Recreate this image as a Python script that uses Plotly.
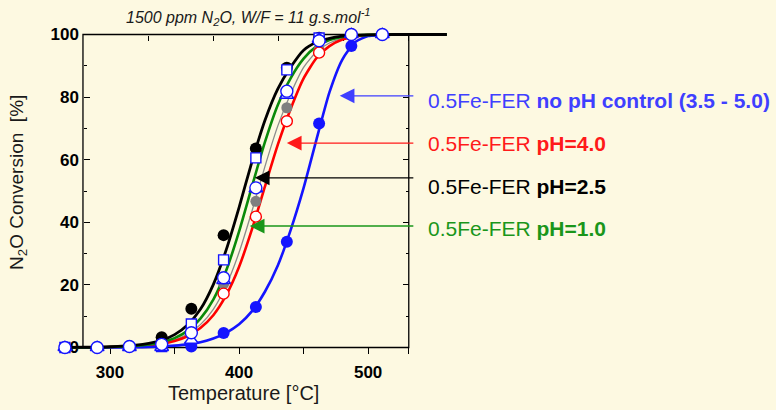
import plotly.graph_objects as go

# ---------------- data ----------------
# fitted curves
curve_T = [265, 280, 300, 320, 330, 340, 350, 360, 370, 380, 390, 400, 410, 420,
           430, 440, 450, 460, 470, 480, 490, 500, 520, 540, 561]
curve_black = [0.03, 0.07, 0.23, 0.73, 1.3, 2.3, 4.1, 7.2, 12.2, 20.1, 31.2, 44.8, 59.4, 72.5,
               82.6, 89.6, 95.0, 97.5, 98.8, 99.5, 99.8, 99.9, 100, 100, 100]
curve_green = [0.02, 0.05, 0.16, 0.53, 0.95, 1.7, 3.0, 5.3, 9.2, 15.3, 24.6, 37.1, 51.5, 65.6,
               77.5, 86.1, 92.3, 96.2, 98.2, 99.2, 99.7, 99.9, 100, 100, 100]
curve_gray = [0.02, 0.05, 0.14, 0.45, 0.79, 1.4, 2.4, 4.3, 7.3, 12.2, 19.8, 30.4, 43.6, 57.8,
              70.8, 81.1, 89.5, 94.5, 97.3, 98.8, 99.5, 99.8, 100, 100, 100]
curve_red = [0.02, 0.04, 0.14, 0.41, 0.7, 1.2, 2.1, 3.6, 6.2, 10.3, 16.7, 25.8, 37.8, 51.4,
             64.8, 76.3, 86.0, 92.5, 96.3, 98.4, 99.4, 99.8, 100, 100, 100]
curve_blue = [0.0, 0.0, 0.02, 0.07, 0.15, 0.33, 0.6, 1.0, 1.7, 2.9, 4.7, 7.4, 11.6, 17.8,
              26.2, 37.6, 51.0, 66.5, 81.5, 92.0, 97.6, 99.5, 100, 100, 100]

# measured points
ph25_T = [315, 340, 363, 388, 413, 437, 462, 487]
ph25_X = [0.4, 3.3, 12.4, 35.9, 63.6, 89.4, 99.0, 100]
ph40_T = [388, 413, 437, 462, 487]
ph40_X = [17.2, 41.8, 72.3, 94.2, 100]
gray_T = [388, 413, 437, 462, 487]
gray_X = [20.3, 46.7, 76.6, 95.2, 100]
noph_T = [363, 388, 413, 437, 462, 487, 511]
noph_X = [0.3, 4.6, 12.9, 33.8, 71.6, 96.3, 100]
sq_T = [265, 340, 363, 388, 413, 437, 462]
sq_X = [0, 0.3, 7.5, 28.0, 60.6, 88.7, 98.9]
tri_T = [265, 290, 315, 340, 363, 388, 413, 437, 462, 487, 511]
tri_X = [0, 0, 0, 0, 2.3, 21.4, 50.7, 80.6, 98.5, 100, 100]
oc_T = [265, 290, 315, 340, 363, 388, 413, 437, 462, 487, 511]
oc_X = [0, 0, 0.3, 1.0, 4.7, 22.3, 51.0, 81.9, 98.0, 100, 100]

x_major = [300, 400, 500]
x_minor = [350, 450, 531.5]
y_major = [0, 20, 40, 60, 80, 100]
y_minor = [10, 30, 50, 70, 90]
top_ticks = [329.5, 380, 430.5, 481, 531.5]

labels = [
    ("0.5Fe-FER ", "no pH control (3.5 - 5.0)", "#3f3fff", 478, 80.4, 78.8),
    ("0.5Fe-FER ", "pH=4.0", "#ff1a1a", 437, 65.3, 65.3),
    ("0.5Fe-FER ", "pH=2.5", "#000000", 412.2, 54.2, 51.3),
    ("0.5Fe-FER ", "pH=1.0", "#1a961a", 408.3, 38.8, 37.9),
]
title_text = "1500 ppm N<sub>2</sub>O, W/F = 11 g.s.mol<sup>-1</sup>"
xtitle = "Temperature [°C]"
ytitle = "N<sub>2</sub>O Conversion  [%]"

# ---------------- layout geometry ----------------
W, H = 776, 410
ML, MR, MT, MB = 52, 324, 22, 50
XR = [255, 565]
YR = [-4, 104]
FRAME_X = [279, 531.5]
ARROW_TAIL_X = 536.2
TEXT_X = 544.7
PW, PH = W - ML - MR, H - MT - MB
BG = "#fdf9e1"
FONT = "Liberation Sans, Arial, sans-serif"


def px2paper(px, py):
    return (px - ML) / PW, (H - MB - py) / PH


fig = go.Figure()

for ys, col, wd in [(curve_gray, "#8c8c8c", 1.3), (curve_red, "#ff0000", 2.6),
                    (curve_blue, "#1414ff", 2.6), (curve_green, "#0a8a0a", 2.6),
                    (curve_black, "#000000", 2.8)]:
    fig.add_trace(go.Scatter(x=curve_T, y=ys, mode="lines",
                             line=dict(color=col, width=wd, shape="spline", smoothing=0.6),
                             hoverinfo="skip", showlegend=False))

marker_sets = [
    (ph25_T, ph25_X, dict(symbol="circle", size=12, color="#000000")),
    (noph_T, noph_X, dict(symbol="circle", size=12, color="#1414ff")),
    (gray_T, gray_X, dict(symbol="circle", size=11, color="#7f7f7f")),
    (ph40_T, ph40_X, dict(symbol="circle", size=11, color="white", line=dict(color="#ff0000", width=1.4))),
    (sq_T, sq_X, dict(symbol="square", size=10, color="white", line=dict(color="#1414ff", width=1.4))),
    (tri_T, tri_X, dict(symbol="triangle-up", size=12, color="white", line=dict(color="#1414ff", width=1.4))),
    (oc_T, oc_X, dict(symbol="circle", size=12, color="white", line=dict(color="#1414ff", width=1.4))),
]
for xs, ys, mk in marker_sets:
    fig.add_trace(go.Scatter(x=xs, y=ys, mode="markers", marker=mk, cliponaxis=False,
                             hoverinfo="skip", showlegend=False))

# dummy trace to register secondary axes (top / right ticks)
fig.add_trace(go.Scatter(x=[400], y=[50], xaxis="x2", yaxis="y2", mode="markers",
                         marker=dict(opacity=0), hoverinfo="skip", showlegend=False))

# frame
fig.add_shape(type="rect", xref="x", yref="y", x0=FRAME_X[0], x1=FRAME_X[1], y0=0, y1=100,
              line=dict(color="black", width=1.3), layer="below")

tickfont = dict(family=FONT, size=17, color="black", weight="bold")
minor_y = dict(tickmode="array", tickvals=y_minor, ticks="inside", ticklen=3,
               tickwidth=1.3, tickcolor="black", showgrid=False)
fig.update_layout(
    width=W, height=H, margin=dict(l=ML, r=MR, t=MT, b=MB),
    paper_bgcolor=BG, plot_bgcolor=BG, showlegend=False,
    xaxis=dict(range=XR, showgrid=False, zeroline=False, showline=False,
               anchor="free", position=(0 - YR[0]) / (YR[1] - YR[0]),
               tickmode="array", tickvals=x_major,
               ticks="outside", ticklen=6, tickwidth=1.3, tickcolor="black",
               ticklabelstandoff=3,
               minor=dict(tickmode="array", tickvals=x_minor, ticks="outside", ticklen=6,
                          tickwidth=1.3, tickcolor="black", showgrid=False),
               tickfont=tickfont, layer="below traces"),
    yaxis=dict(range=YR, showgrid=False, zeroline=False, showline=False,
               anchor="free", position=(FRAME_X[0] - XR[0]) / (XR[1] - XR[0]),
               tickmode="array", tickvals=y_major,
               ticks="inside", ticklen=6, tickwidth=1.3, tickcolor="black",
               ticklabelstandoff=4,
               minor=minor_y, tickfont=tickfont, layer="below traces"),
    xaxis2=dict(range=XR, overlaying="x", side="top", anchor="free",
                position=(100 - YR[0]) / (YR[1] - YR[0]), showgrid=False, zeroline=False,
                showline=False, tickmode="array", tickvals=top_ticks, ticks="inside",
                ticklen=5, tickwidth=1.3, tickcolor="black", showticklabels=False,
                layer="below traces"),
    yaxis2=dict(range=YR, overlaying="y", side="right", anchor="free",
                position=(FRAME_X[1] - XR[0]) / (XR[1] - XR[0]), showgrid=False,
                zeroline=False, showline=False, tickmode="array", tickvals=y_major,
                ticks="inside", ticklen=6, tickwidth=1.3, tickcolor="black",
                minor=minor_y, showticklabels=False, layer="below traces"),
)

# arrows + labels
for reg, bold, tcol, hx, hy, ty in labels:
    fig.add_annotation(x=hx, y=hy, xref="x", yref="y", ax=ARROW_TAIL_X, ay=hy,
                       axref="x", ayref="y", text="", showarrow=True,
                       arrowhead=2, arrowsize=2.1, arrowwidth=1.4, arrowcolor=tcol,
                       standoff=0, startstandoff=0)
    fig.add_annotation(x=TEXT_X, y=ty, xref="x", yref="y", xanchor="left", yanchor="middle",
                       text=f"{reg}<b>{bold}</b>", showarrow=False,
                       font=dict(family=FONT, size=21, color=tcol))

tx, ty = px2paper(248, 17)
fig.add_annotation(x=tx, y=ty, xref="paper", yref="paper", text=f"<i>{title_text}</i>",
                   showarrow=False, xanchor="center", yanchor="middle",
                   font=dict(family=FONT, size=16, color="#1a1a1a"))
tx, ty = px2paper(243, 393)
fig.add_annotation(x=tx, y=ty, xref="paper", yref="paper", text=xtitle, showarrow=False,
                   xanchor="center", yanchor="middle",
                   font=dict(family=FONT, size=20, color="#1a1a1a"))
tx, ty = px2paper(18, 183)
fig.add_annotation(x=tx, y=ty, xref="paper", yref="paper", text=ytitle, showarrow=False,
                   textangle=-90, xanchor="center", yanchor="middle",
                   font=dict(family=FONT, size=19, color="#1a1a1a"))

fig.write_html("out.html")
